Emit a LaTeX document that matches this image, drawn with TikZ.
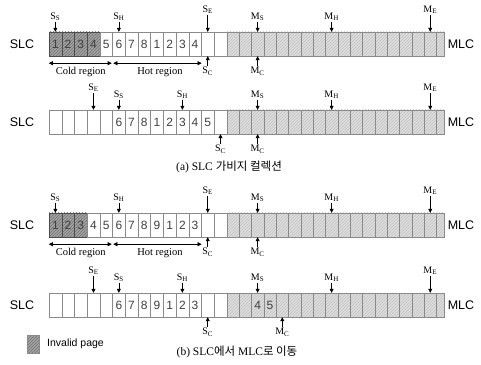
\documentclass[tikz,border=0pt]{standalone}
\usepackage{fontspec}
\setmainfont{Liberation Serif}
\setsansfont{Liberation Sans}
\newfontfamily\kor{Noto Sans CJK KR}
\usetikzlibrary{arrows.meta,patterns}

\definecolor{cellline}{HTML}{8A8A8A}
\definecolor{mlcfill}{HTML}{DCDCDC}
\definecolor{mlchatch}{HTML}{C4C4C4}
\definecolor{badfill}{HTML}{A2A2A2}
\definecolor{badhatch}{HTML}{747474}

\tikzset{
  cell/.style={draw=cellline, minimum height=24pt, inner sep=0pt},
  slccell/.style={cell, minimum width=12.7pt},
  badcell/.style={slccell, draw=black!70, preaction={fill=badfill},
    pattern=north east lines, pattern color=badhatch},
  mlccell/.style={cell, minimum width=12.33pt, preaction={fill=mlcfill},
    pattern=north east lines, pattern color=mlchatch},
  cellnum/.style={inner sep=0pt, text=black!75, font=\sffamily\fontsize{12}{12}\selectfont},
  ptr/.style={-{Triangle[length=4pt,width=4pt]}, line width=0.6pt},
  ptrlbl/.style={inner sep=0.5pt, font=\fontsize{10}{10}\selectfont},
  rowlbl/.style={font=\sffamily\fontsize{12.5}{12.5}\selectfont},
  region/.style={{Triangle[length=4pt,width=4pt]}-{Triangle[length=4pt,width=4pt]}, line width=0.6pt},
  regionlbl/.style={font=\fontsize{10.5}{10.5}\selectfont},
  caption/.style={font=\fontsize{11.5}{11.5}\selectfont}
}

\begin{document}
\begin{tikzpicture}[x=1pt, y=1pt]
  \useasboundingbox (0,0) rectangle (481,364);

  % four rows of blocks: SLC part, then MLC part
  \foreach \row/\yc/\nd in {1/320/4, 2/242/0, 3/139/3, 4/59/0} {
    \node[rowlbl] (r\row slc) at (22,\yc) {SLC};
    \foreach \i in {0,...,13} {
      \ifnum\i<\nd \def\sty{badcell}\else\def\sty{slccell}\fi
      \node[\sty] (r\row s\i) at ({49+(\i+0.5)*12.7},\yc) {};
    }
    \foreach \j in {0,...,16}
      \node[mlccell] (r\row m\j) at ({226.8+(\j+0.5)*12.33},\yc) {};
    \node[mlccell, minimum width=7.6pt] (r\row m17) at (440.4,\yc) {};
    \node[rowlbl] (r\row mlc) at (461,\yc) {MLC};
  }

  % page numbers
  \foreach \cel/\n in {r1s0/1, r1s1/2, r1s2/3, r1s3/4, r1s4/5, r1s5/6, r1s6/7, r1s7/8,
      r1s8/1, r1s9/2, r1s10/3, r1s11/4,
      r2s5/6, r2s6/7, r2s7/8, r2s8/1, r2s9/2, r2s10/3, r2s11/4, r2s12/5,
      r3s0/1, r3s1/2, r3s2/3, r3s3/4, r3s4/5, r3s5/6, r3s6/7, r3s7/8,
      r3s8/9, r3s9/1, r3s10/2, r3s11/3,
      r4s5/6, r4s6/7, r4s7/8, r4s8/9, r4s9/1, r4s10/2, r4s11/3,
      r4m2/4, r4m3/5}
    \node[cellnum] (\cel-n) at (\cel) {\n};

  % pointers from above
  \foreach \cel/\letr/\subs/\off in {r1s0/S/S/15, r1s5/S/H/15, r1s12/S/E/22,
      r1m2/M/S/15, r1m8/M/H/15, r1m16/M/E/22,
      r2s3/S/E/22, r2s5/S/S/15, r2s10/S/H/15, r2m2/M/S/15, r2m8/M/H/15, r2m16/M/E/22,
      r3s0/S/S/15, r3s5/S/H/15, r3s12/S/E/22, r3m2/M/S/15, r3m8/M/H/15, r3m16/M/E/22,
      r4s3/S/E/22, r4s5/S/S/15, r4s10/S/H/15, r4m2/M/S/15, r4m8/M/H/15, r4m16/M/E/22} {
    \node[ptrlbl] (\cel-up) at ([yshift=\off pt]\cel.north) {\letr\textsubscript{\subs}};
    \draw[ptr] (\cel-up) -- (\cel.north);
  }

  % pointers from below
  \foreach \cel/\letr in {r1s12/S, r1m2/M, r2s13/S, r2m2/M, r3s12/S, r3m2/M, r4s12/S, r4m4/M} {
    \node[ptrlbl] (\cel-dn) at ([yshift=-15pt]\cel.south) {\letr\textsubscript{C}};
    \draw[ptr] (\cel-dn) -- (\cel.south);
  }

  % cold and hot regions
  \foreach \row in {1,3} {
    \draw[region] ([yshift=-7pt]r\row s0.south west) -- ([xshift=-1pt,yshift=-7pt]r\row s4.south east);
    \draw[region] ([xshift=1pt,yshift=-7pt]r\row s5.south west) -- ([yshift=-7pt]r\row s11.south east);
    \node[regionlbl] (r\row cold) at ([yshift=-16pt]r\row s2.south) {Cold region};
    \node[regionlbl] (r\row hot) at ([xshift=3pt,yshift=-16pt]r\row s8.south) {Hot region};
  }

  \node[caption] (capa) at (229,197) {(a) SLC {\kor 가비지 컬렉션}};
  \node[caption] (capb) at (237,12) {(b) SLC{\kor 에서} MLC{\kor 로 이동}};

  % legend
  \node[badcell, draw=cellline, minimum width=12pt, minimum height=18pt] (legbox) at (33,20) {};
  \node[anchor=west, inner sep=0pt, font=\sffamily\fontsize{10.5}{10.5}\selectfont] (legtxt) at (47,20) {Invalid page};
\end{tikzpicture}
\end{document}
